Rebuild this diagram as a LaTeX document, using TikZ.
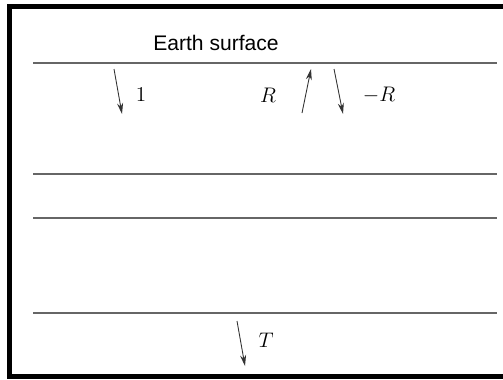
\documentclass[tikz,border=0pt]{standalone}
\usepackage{amsmath,amssymb}
\usepackage{fontspec}
\setsansfont{Liberation Sans}
\usepackage{tikz}
\usetikzlibrary{arrows.meta,calc}

\tikzset{
  layer/.style={draw=black!60, line width=1.1pt},
  ray/.style={-{Stealth[length=2.2mm,width=1.2mm]}, line width=0.5pt, black!80},
  lbl/.style={font=\fontsize{12.5}{14}\selectfont, inner sep=1pt}
}

\begin{document}
\begin{tikzpicture}[x=0.02cm,y=-0.02cm]
\useasboundingbox (0,0) rectangle (503,379);
\fill[white] (0,0) rectangle (503,379);
% frame, open on the right
\fill[black] (7,4) rectangle (12,379);
\fill[black] (7,4) rectangle (503,9);
\fill[black] (7,374) rectangle (503,379);
% layers
\draw[layer] (33,63) -- (497,63);
\draw[layer] (33,174) -- (497,174);
\draw[layer] (33,218) -- (497,218);
\draw[layer] (33,313) -- (497,313);
\node[lbl, font=\sffamily\fontsize{12}{14}\selectfont] (surf) at (216,43) {Earth surface};
% rays
\coordinate (i1) at (114,69);
\coordinate (i2) at (122,114);
\draw[ray] (i1) -- (i2);
\node[lbl] (one) at (141,95) {$1$};
\coordinate (r1) at (302,113);
\coordinate (r2) at (311,69);
\draw[ray] (r1) -- (r2);
\node[lbl] (refl) at (268,95) {$R$};
\coordinate (m1) at (334,69);
\coordinate (m2) at (343,114);
\draw[ray] (m1) -- (m2);
\node[lbl] (mrefl) at (379,95) {$-R$};
\coordinate (t1) at (237,321);
\coordinate (t2) at (245,366);
\draw[ray] (t1) -- (t2);
\node[lbl] (trans) at (266,340) {$T$};
\end{tikzpicture}
\end{document}
